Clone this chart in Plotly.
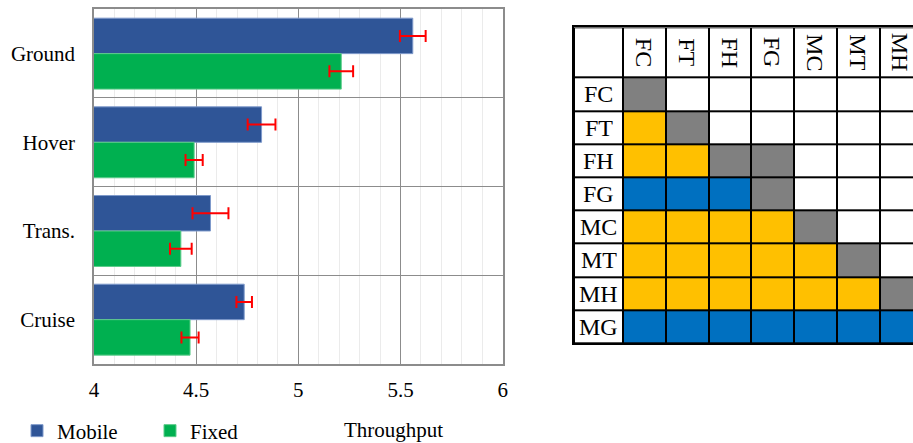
import plotly.graph_objects as go

# ---------------- data ----------------
phases = ["Ground", "Hover", "Trans.", "Cruise"]
mobile = [5.56, 4.82, 4.57, 4.735]
fixed = [5.21, 4.49, 4.425, 4.47]
mobile_err = [0.063, 0.068, 0.088, 0.038]
fixed_err = [0.058, 0.042, 0.053, 0.042]
x_ticks = [4, 4.5, 5, 5.5, 6]
x_tick_labels = ["4", "4.5", "5", "5.5", "6"]

labels = ["FC", "FT", "FH", "FG", "MC", "MT", "MH", "MG"]
# W = white, G = grey, Y = yellow, B = blue
relation = [
    "GWWWWWWW",
    "YGWWWWWW",
    "YYGGWWWW",
    "BBBGWWWW",
    "YYYYGWWW",
    "YYYYYGWW",
    "YYYYYYGW",
    "BBBBBBBG",
]

# ---------------- layout helpers ----------------
W, H = 913, 443


def fx(p):
    return p / W


def fy(p):
    return 1 - p / H


FONT = "Liberation Serif, Times New Roman, serif"
C_MOBILE = "#2F5597"
C_FIXED = "#00B050"
code = {"W": 0, "G": 1, "Y": 2, "B": 3}
colorscale = [
    [0.0, "#FFFFFF"], [0.1667, "#FFFFFF"],
    [0.1667, "#808080"], [0.5, "#808080"],
    [0.5, "#FFC000"], [0.8333, "#FFC000"],
    [0.8333, "#0070C0"], [1.0, "#0070C0"],
]
LABEL_W = 1.155   # label column width relative to a cell
HEAD_H = 1.518    # header row height relative to a cell
X2_MAX = (913 - 623.3) / 42.7   # visible part of the table

fig = go.Figure()

fig.add_trace(go.Bar(
    name="Mobile", y=phases, x=mobile, orientation="h",
    marker=dict(color=C_MOBILE, line=dict(color="#7F9ACB", width=1)),
    error_x=dict(type="data", array=mobile_err, color="#FF0000", thickness=2, width=6),
    xaxis="x", yaxis="y",
))
fig.add_trace(go.Bar(
    name="Fixed", y=phases, x=fixed, orientation="h",
    marker=dict(color=C_FIXED, line=dict(color="#5CCB8A", width=1)),
    error_x=dict(type="data", array=fixed_err, color="#FF0000", thickness=2, width=6),
    xaxis="x", yaxis="y",
))

# table as heatmap (header row + label column are white cells)
n = len(labels)
z = [[0] * (n + 1)]
for r in relation:
    z.append([0] + [code[c] for c in r])
x_edges = [-LABEL_W] + list(range(0, n + 1))
y_edges = [-HEAD_H] + list(range(0, n + 1))
fig.add_trace(go.Heatmap(
    z=z, x=x_edges, y=y_edges, colorscale=colorscale, zmin=0, zmax=3,
    showscale=False, xgap=2, ygap=2, hoverinfo="skip",
    xaxis="x2", yaxis="y2",
))

annotations = []
for i, lab in enumerate(labels):
    annotations.append(dict(x=-LABEL_W / 2, y=i + 0.5, xref="x2", yref="y2",
                            text=lab, showarrow=False,
                            xanchor="center", yanchor="middle",
                            font=dict(family=FONT, size=24, color="black")))
    if i + 0.5 < X2_MAX:   # header cells beyond the window edge are not shown
        annotations.append(dict(x=i + 0.5, y=-HEAD_H / 2, xref="x2", yref="y2",
                                text=lab, showarrow=False, textangle=90,
                                xanchor="center", yanchor="middle",
                                font=dict(family=FONT, size=24, color="black")))
annotations.append(dict(x=fx(393), y=fy(430), xref="paper", yref="paper",
                        text="Throughput", showarrow=False,
                        xanchor="center", yanchor="middle",
                        font=dict(family=FONT, size=21, color="black")))

fig.update_layout(
    width=W, height=H,
    template="none",
    margin=dict(l=0, r=0, t=0, b=0, autoexpand=False),
    paper_bgcolor="white", plot_bgcolor="white",
    font=dict(family=FONT, size=21, color="black"),
    barmode="group", bargap=0.2, bargroupgap=0,
    showlegend=True,
    legend=dict(orientation="h", x=fx(17), xanchor="left", y=fy(431), yanchor="middle",
                entrywidth=88, entrywidthmode="pixels",
                font=dict(family=FONT, size=21, color="black"),
                bgcolor="rgba(0,0,0,0)"),
    xaxis=dict(domain=[fx(94), fx(502.7)], range=[4, 6], tickvals=x_ticks,
               ticktext=x_tick_labels, showgrid=True, gridcolor="#8C8C8C", gridwidth=1.3,
               minor=dict(dtick=0.1, showgrid=True, gridcolor="#EBEBEB", gridwidth=1),
               showline=True, mirror=True, linecolor="#8C8C8C", linewidth=1.5,
               zeroline=False, ticks="", ticklabelstandoff=6, automargin=False,
               tickfont=dict(family=FONT, size=21, color="black"),
               anchor="y", fixedrange=True),
    yaxis=dict(domain=[fy(364), fy(9.3)], range=[3.5, -0.5],
               tickson="boundaries", showgrid=True, gridcolor="#8C8C8C", gridwidth=1.3,
               showline=True, mirror=True, linecolor="#8C8C8C", linewidth=1.5,
               zeroline=False, ticks="", ticklabelstandoff=13, automargin=False,
               tickfont=dict(family=FONT, size=21, color="black"),
               anchor="x", fixedrange=True),
    xaxis2=dict(domain=[fx(574), 1.0], range=[-LABEL_W, X2_MAX],
                showgrid=False, zeroline=False, showticklabels=False, ticks="",
                showline=True, mirror=True, linecolor="black", linewidth=2,
                anchor="y2", automargin=False, fixedrange=True),
    yaxis2=dict(domain=[fy(343.3), fy(27.3)], range=[n, -HEAD_H],
                showgrid=False, zeroline=False, showticklabels=False, ticks="",
                showline=True, mirror=False, linecolor="black", linewidth=2,
                anchor="x2", automargin=False, fixedrange=True),
    shapes=[dict(type="rect", xref="x2", yref="y2", x0=-LABEL_W, x1=n, y0=-HEAD_H, y1=n,
                 fillcolor="black", line=dict(width=0), layer="below")],
    annotations=annotations,
)

# remove the default page margin so the figure fills the window exactly
fig.write_html(
    "out.html",
    config={"displayModeBar": False},
    post_script="document.body.style.margin='0';"
                "document.documentElement.style.overflow='hidden';"
                "document.body.style.overflow='hidden';",
)
